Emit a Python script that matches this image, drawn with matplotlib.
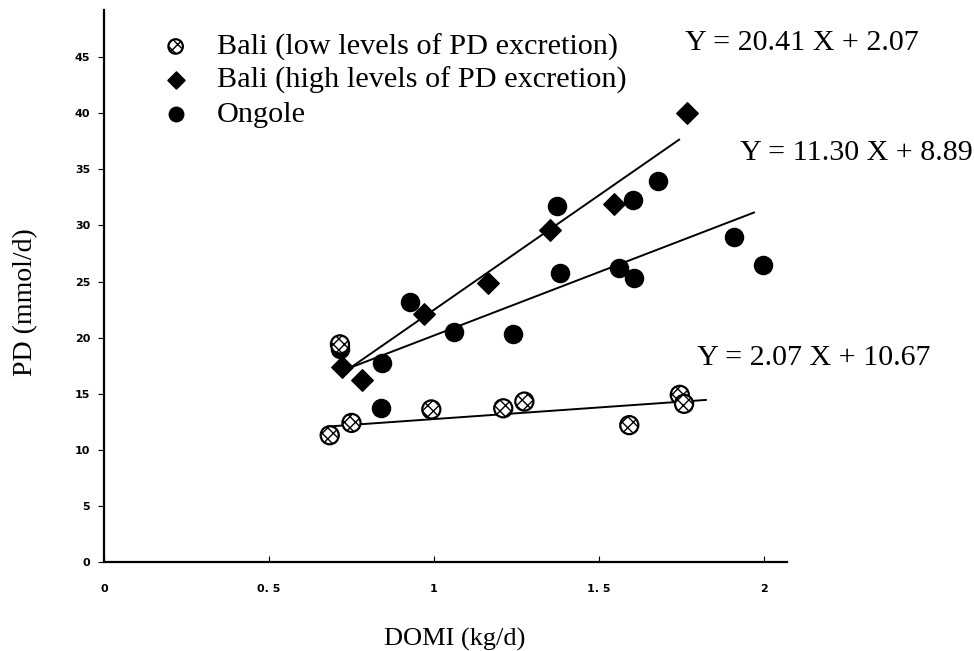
import matplotlib.pyplot as plt
import numpy as np

# DOMI (kg/d) vs PD (mmol/d)
bali_low_x = [0.684, 0.750, 0.992, 1.21, 1.274, 1.592, 1.745, 1.758, 0.715]
bali_low_y = [11.3, 12.4, 13.6, 13.7, 14.3, 12.2, 14.9, 14.1, 19.4]

bali_high_x = [0.72, 0.781, 0.971, 1.165, 1.352, 1.546, 1.767]
bali_high_y = [17.4, 16.2, 22.1, 24.9, 29.6, 31.9, 40.0]

ongole_x = [0.714, 0.841, 0.844, 0.926, 1.062, 1.24, 1.373, 1.383, 1.561, 1.607, 1.604, 1.679, 1.909, 1.997]
ongole_y = [19.0, 13.7, 17.7, 23.2, 20.5, 20.3, 31.7, 25.8, 26.2, 25.3, 32.3, 34.0, 29.0, 26.5]

# regression lines: slope, intercept, x range drawn
fit_slope = [20.41, 11.30, 2.07]
fit_icept = [2.07, 8.89, 10.67]
fit_xmin = [0.72, 0.72, 0.684]
fit_xmax = [1.743, 1.97, 1.824]
fit_text = ["Y = 20.41 X + 2.07", "Y = 11.30 X + 8.89", "Y = 2.07 X + 10.67"]
fit_text_x = [1.761, 1.927, 1.797]
fit_text_y = [46.3, 36.5, 18.2]

xticks = [0, 0.5, 1, 1.5, 2]
xtick_labels = ["0", "0. 5", "1", "1. 5", "2"]
yticks = list(range(0, 50, 5))

serif = "Liberation Serif"

fig = plt.figure(figsize=(9.74, 6.51), dpi=100)
ax = fig.add_axes([0.1068, 0.1367, 0.7012, 0.8479])

# fitted lines
for m, b, x0, x1 in zip(fit_slope, fit_icept, fit_xmin, fit_xmax):
    xs = np.array([x0, x1])
    ax.plot(xs, m * xs + b, color="black", lw=1.4, zorder=2)

ax.scatter(ongole_x, ongole_y, s=170, marker="o", color="black", zorder=3, label="Ongole")
ax.scatter(bali_high_x, bali_high_y, s=120, marker="D", color="black", zorder=3,
           label="Bali (high levels of PD excretion)")
ax.scatter(bali_low_x, bali_low_y, s=170, marker="o", facecolor="white", edgecolor="black",
           linewidths=1.6, hatch="xxx", zorder=4, label="Bali (low levels of PD excretion)")

for t, tx, ty in zip(fit_text, fit_text_x, fit_text_y):
    ax.text(tx, ty, t, fontsize=21.6, family=serif, va="center", ha="left", clip_on=False)

h, l = ax.get_legend_handles_labels()
order = [2, 1, 0]
leg = ax.legend([h[i] for i in order], [l[i] for i in order], loc="upper left",
                bbox_to_anchor=(0.0827, 0.958), frameon=False, prop={"family": serif, "size": 21.8},
                handlelength=1.0, handletextpad=0.85, labelspacing=0.2, scatterpoints=1,
                markerscale=0.8, borderaxespad=0, borderpad=0)

ax.set_xlim(0, 2.07)
ax.set_ylim(0, 49.2)
ax.spines["top"].set_visible(False)
ax.spines["right"].set_visible(False)
ax.spines["left"].set_linewidth(1.6)
ax.spines["bottom"].set_linewidth(1.6)

ax.set_xticks(xticks)
ax.set_xticklabels(xtick_labels)
ax.set_yticks(yticks)
ax.tick_params(axis="x", direction="in", length=4, pad=16, labelsize=8)
ax.tick_params(axis="y", direction="out", length=4, pad=6, labelsize=8)
for lab in ax.get_xticklabels() + ax.get_yticklabels():
    lab.set_fontweight("bold")

ax.set_xlabel("DOMI (kg/d)", family=serif, fontsize=19, labelpad=24)
ax.xaxis.set_label_coords(0.514, -0.12)
ax.set_ylabel("PD (mmol/d)", family=serif, fontsize=20)
ax.yaxis.set_label_coords(-0.097, 0.47)

fig.savefig("out.png", dpi=100)
